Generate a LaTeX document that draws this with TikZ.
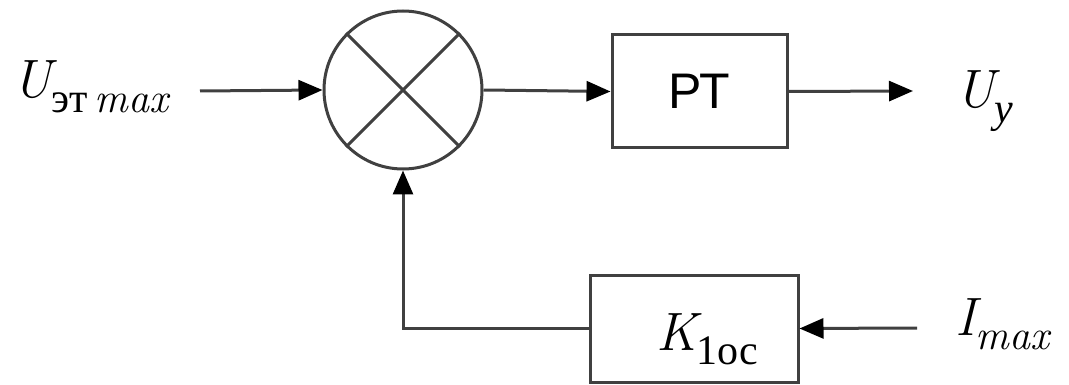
\documentclass[tikz,border=0pt]{standalone}
\usepackage{fontspec}
\newfontfamily\cyrserif{Liberation Serif}
\newfontfamily\blocksans{Liberation Sans}
\usetikzlibrary{arrows.meta,calc}

% lowered subscript set in text mode
\newcommand\lowsub[1]{\raisebox{-0.26em}{\fontsize{42}{46}\selectfont #1}}

\tikzset{
  wire/.style={line width=3pt, draw=black!75},
  sig/.style={wire, -{Triangle[length=24pt,width=20pt,fill=black,color=black]}},
  block/.style={rectangle, draw=black!75, line width=3pt, inner sep=0pt},
  sumnode/.style={circle, draw=black!75, line width=3pt, inner sep=0pt, minimum size=158pt},
  lbl/.style={inner sep=0pt, font=\fontsize{54}{60}\selectfont}
}

\begin{document}
\begin{tikzpicture}[x=1pt, y=-1pt]
  \useasboundingbox (0,0) rectangle (1069,385);

  % summing junction
  \node[sumnode] (sum) at (403,90) {};
  \draw[wire] (sum.45) -- (sum.225);
  \draw[wire] (sum.135) -- (sum.315);

  % current regulator
  \node[block, minimum width=175pt, minimum height=113pt] (pt) at (699.5,91.5)
    {\blocksans\fontsize{50}{54}\selectfont РТ};

  % feedback gain
  \node[block, minimum width=208pt, minimum height=107pt] (k) at (694,328.5) {};
  \node[lbl, anchor=base west] (ktext) at (656,350) {\itshape K\lowsub{\upshape\cyrserif 1ос}};

  % signal labels
  \node[lbl, anchor=base west] (uin) at (12,98)
    {\itshape U\lowsub{\cyrserif\upshape эт\,\itshape\rmfamily max}};
  \node[lbl, anchor=base west] (uout) at (955,108)
    {\itshape U\lowsub{\cyrserif\itshape у}};
  \node[lbl, anchor=base west] (imax) at (955,335)
    {\itshape I\lowsub{max}};

  % free ends of the connectors
  \coordinate (inA) at (200,91);
  \coordinate (outB) at (913,91);
  \coordinate (inI) at (917,328);

  % connectors
  \draw[sig] (inA) -- (sum.west);
  \draw[sig] (sum.east) -- (pt.west);
  \draw[sig] (pt.east) -- (outB);
  \draw[sig] (inI) -- (k.east);
  \draw[sig] (k.west) -| (sum.south);
\end{tikzpicture}
\end{document}
